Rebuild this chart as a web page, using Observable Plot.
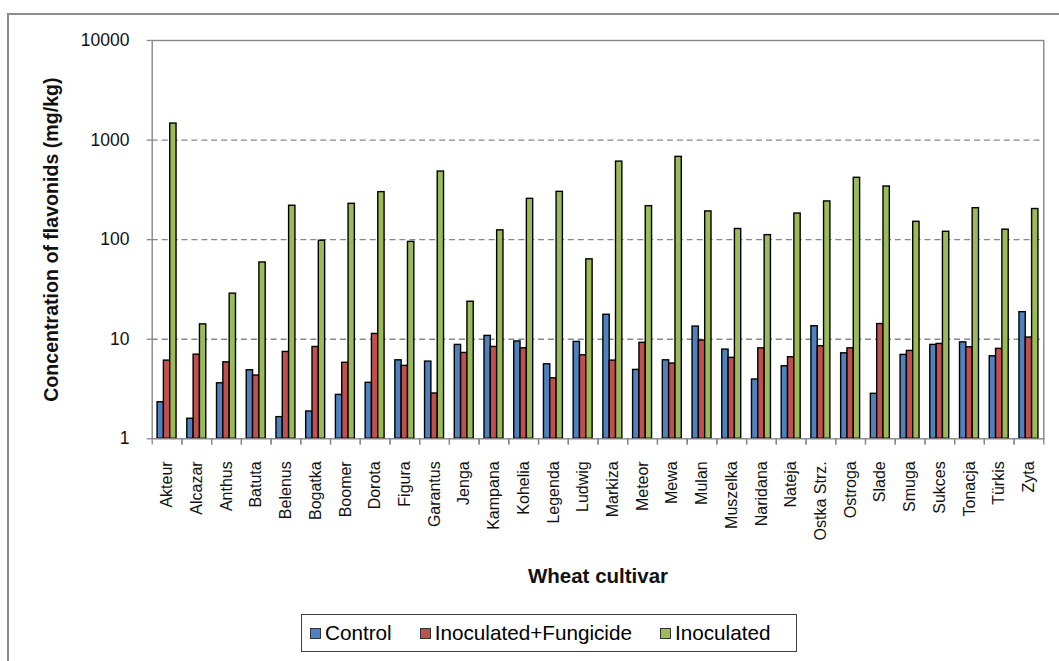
<!DOCTYPE html>
<html>
<head>
<meta charset="utf-8">
<script src="https://cdn.jsdelivr.net/npm/d3@7"></script>
<script src="https://cdn.jsdelivr.net/npm/@observablehq/plot@0.6"></script>
<style>
  body { margin: 0; background: #fff; font-family: "Liberation Sans", Arial, sans-serif; }
  #wrap { position: relative; width: 1059px; height: 661px; overflow: hidden; background: #fff; }
  #chart { position: absolute; left: 0; top: 0; }
  #border { position: absolute; left: 7px; top: 13px; width: 1100px; height: 700px; border: 2px solid #8c8c8c; }
  #legend { position: absolute; left: 301px; top: 614px; width: 496px; height: 38px; box-sizing: border-box;
            border: 1px solid #404040; background: #fff; display: flex; align-items: center; padding-left: 8px; gap: 28px; }
  .item { display: flex; align-items: center; font-size: 20.7px; color: #000; white-space: nowrap; }
  .sw { width: 11px; height: 11px; box-sizing: border-box; border: 1px solid #333; margin-right: 4px; }
  g[aria-label="y-axis label"] text { font-weight: bold; font-size: 19.6px; }
  g[aria-label="fx-axis label"] text { font-weight: bold; font-size: 20.5px; }
</style>
</head>
<body>
<div id="wrap">
  <div id="chart"></div>
  <div id="border"></div>
  <div id="legend"></div>
</div>
<script>
const cultivars = ["Akteur", "Alcazar", "Anthus", "Batuta", "Belenus", "Bogatka", "Boomer", "Dorota", "Figura", "Garantus",
  "Jenga", "Kampana", "Kohelia", "Legenda", "Ludwig", "Markiza", "Meteor", "Mewa", "Mulan", "Muszelka",
  "Naridana", "Nateja", "Ostka Strz.", "Ostroga", "Slade", "Smuga", "Sukces", "Tonacja", "Türkis", "Zyta"];
const series = ["Control", "Inoculated+Fungicide", "Inoculated"];
const control = [2.33, 1.59, 3.61, 4.88, 1.65, 1.88, 2.76, 3.65, 6.14, 5.96,
  8.77, 10.8, 9.5, 5.6, 9.4, 17.6, 4.92, 6.14, 13.4, 7.87,
  3.94, 5.35, 13.5, 7.22, 2.83, 6.96, 8.77, 9.3, 6.74, 18.7];
const fungicide = [6.1, 7.0, 5.86, 4.32, 7.45, 8.36, 5.8, 11.3, 5.4, 2.85,
  7.28, 8.36, 8.1, 4.05, 6.9, 6.1, 9.2, 5.7, 9.7, 6.5,
  8.1, 6.59, 8.5, 8.1, 14.2, 7.63, 8.97, 8.3, 8.0, 10.4];
const inoculated = [1465, 14.1, 28.7, 59, 219, 97.5, 229, 300, 95, 483,
  23.8, 124, 257, 302, 63.4, 608, 217, 678, 192, 128,
  111, 183, 242, 418, 342, 151, 120, 207, 126, 203];
const colors = ["#4F81BD", "#C0504D", "#9BBB59"];
const yTicks = [1, 10, 100, 1000, 10000];
const gridTicks = [10, 100, 1000];

const seriesValues = [control, fungicide, inoculated];
const data = cultivars.flatMap((c, i) => series.map((s, j) => ({cultivar: c, series: s, value: seriesValues[j][i]})));

const W = 1059, H = 661, mt = 40, mb = 222.7, ml = 151.7, mr = 15.7;
const plotH = H - mt - mb;
const axisGray = "#878787";

const chart = Plot.plot({
  width: W, height: H,
  marginTop: mt, marginBottom: mb, marginLeft: ml, marginRight: mr,
  style: {fontFamily: '"Liberation Sans", Arial, sans-serif', background: "transparent", color: "#000"},
  fx: {domain: cultivars, padding: 0, round: false, axis: null},
  x: {domain: series, paddingInner: 0, paddingOuter: 0.85, round: false, axis: null},
  y: {type: "log", domain: [1, 10000], axis: null},
  color: {domain: series, range: colors},
  marks: [
    Plot.gridY({ticks: gridTicks, stroke: axisGray, strokeOpacity: 1, strokeWidth: 1.3, strokeDasharray: "6,4"}),
    Plot.barY(data, {fx: "cultivar", x: "series", y1: 1, y2: "value", fill: "series", stroke: "#000", strokeWidth: 1.4}),
    Plot.frame({facet: "super", stroke: axisGray, strokeWidth: 1.4}),
    Plot.frame({anchor: "left", insetTop: plotH, insetBottom: -5, stroke: axisGray, strokeWidth: 1.3}),
    Plot.frame({anchor: "right", insetTop: plotH, insetBottom: -5, stroke: axisGray, strokeWidth: 1.3}),
    Plot.axisY({ticks: yTicks, tickFormat: d => String(d), tickSize: 5, tickPadding: 17.7, fontSize: 17.5,
      stroke: axisGray, strokeWidth: 1.3, fill: "#111",
      label: "Concentration of flavonids (mg/kg)", labelAnchor: "center", labelOffset: 108, labelArrow: "none"}),
    Plot.axisFx({anchor: "bottom", tickSize: 0, tickPadding: 22.5, tickRotate: -90, fontSize: 16, fill: "#111",
      label: "Wheat cultivar", labelAnchor: "center", labelOffset: 144, labelArrow: "none"})
  ]
});
document.getElementById("chart").appendChild(chart);

const legend = document.getElementById("legend");
series.forEach((s, j) => {
  const item = document.createElement("div");
  item.className = "item";
  const sw = document.createElement("span");
  sw.className = "sw";
  sw.style.background = colors[j];
  const t = document.createElement("span");
  t.textContent = s;
  item.appendChild(sw);
  item.appendChild(t);
  legend.appendChild(item);
});
</script>
</body>
</html>
